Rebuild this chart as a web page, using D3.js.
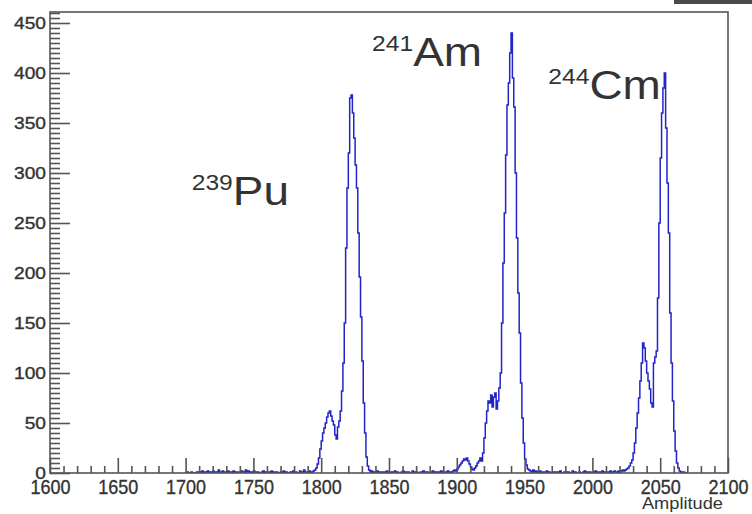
<!DOCTYPE html>
<html>
<head>
<meta charset="utf-8">
<script src="https://cdn.jsdelivr.net/npm/d3@7"></script>
<style>
  html, body { margin: 0; padding: 0; background: #fff; }
  svg { display: block; font-family: "Liberation Sans", Arial, Helvetica, sans-serif; }
</style>
</head>
<body>
<svg id="chart" width="752" height="514"></svg>
<script>
// Alpha spectrum: counts per amplitude channel (1 channel per bin)
const binStart = 1700;
const binWidth = 1;
const counts = [
  0, 1, 0, 0, 1, 0, 0, 0, 1, 0,        // 1700
  1, 0, 2, 1, 0, 1, 2, 0, 1, 0,        // 1710
  2, 1, 0, 1, 3, 1, 0, 2, 1, 0,        // 1720
  1, 2, 0, 1, 0, 2, 1, 0, 1, 1,        // 1730
  0, 2, 1, 0, 3, 1, 2, 0, 1, 0,        // 1740
  2, 1, 0, 1, 0, 0, 1, 2, 0, 1,        // 1750
  0, 1, 0, 2, 0, 1, 0, 1, 0, 0,        // 1760
  1, 0, 2, 0, 1, 0, 0, 1, 0, 2,        // 1770
  0, 1, 0, 0, 2, 1, 0, 3, 1, 0,        // 1780
  1, 2, 0, 1, 2, 3, 5, 9, 15, 24,      // 1790
  32, 40, 45, 50, 56, 60, 62, 57, 52, 48,          // 1800
  38, 34, 46, 52, 62, 82, 110, 150, 225, 285,      // 1810
  320, 375, 378, 360, 335, 308, 285, 240, 196, 156, // 1820
  112, 70, 40, 16, 7, 3, 1, 2, 0, 1,               // 1830
  0, 2, 1, 0, 1, 0, 1, 0, 2, 1,        // 1840
  0, 1, 0, 1, 2, 0, 1, 0, 0, 1,        // 1850
  2, 0, 1, 0, 1, 0, 0, 2, 1, 0,        // 1860
  1, 0, 0, 1, 0, 2, 1, 0, 1, 0,        // 1870
  0, 1, 2, 0, 1, 0, 1, 0, 2, 1,        // 1880
  0, 1, 0, 2, 1, 0, 1, 2, 3, 2,        // 1890
  4, 6, 8, 10, 12, 14, 13, 15, 12, 9,  // 1900
  6, 4, 3, 5, 7, 10, 12, 15, 12, 20,   // 1910
  35, 50, 62, 72, 70, 78, 66, 76, 80, 64,          // 1920
  72, 85, 100, 150, 210, 260, 318, 368, 390, 420,  // 1930
  440, 395, 366, 300, 235, 180, 140, 90, 55, 30,   // 1940
  14, 8, 4, 3, 2, 1, 3, 1, 2, 0,       // 1950
  1, 2, 0, 1, 0, 1, 2, 0, 1, 0,        // 1960
  0, 1, 0, 1, 1, 0, 2, 0, 0, 1,        // 1970
  1, 0, 1, 0, 0, 2, 0, 1, 0, 0,        // 1980
  1, 0, 0, 1, 2, 0, 1, 0, 1, 0,        // 1990
  0, 1, 2, 0, 1, 1, 0, 2, 1, 0,        // 2000
  1, 0, 1, 2, 0, 1, 2, 1, 0, 2,        // 2010
  1, 2, 3, 2, 3, 4, 5, 7, 10, 13,      // 2020
  20, 30, 45, 60, 75, 92, 110, 130, 125, 112,      // 2030
  100, 92, 84, 70, 66, 110, 116, 122, 175, 250,    // 2040
  315, 360, 385, 400, 345, 290, 240, 160, 110, 72, // 2050
  42, 22, 10, 5, 2, 1, 0, 1, 0, 0      // 2060
];

const xDomain = [1600, 2100];
const yDomain = [0, 461];
const xMajorTicks = [1600, 1650, 1700, 1750, 1800, 1850, 1900, 1950, 2000, 2050, 2100];
const yMajorTicks = [0, 50, 100, 150, 200, 250, 300, 350, 400, 450];
const xTitle = "Amplitude";

// Isotope annotations, anchored in data coordinates
const isotopeMass = ["239", "241", "244"];
const isotopeSymbol = ["Pu", "Am", "Cm"];
const isotopeAnchorX = [1704.5, 1837.5, 1967.5];
const isotopeAnchorY = [268, 407, 374];

const W = 752, H = 514;
const frame = { left: 50, right: 728, top: 12, bottom: 473 };
const ink = "#555";
const textInk = "#333";

const svg = d3.select("#chart");

const x = d3.scaleLinear().domain(xDomain).range([frame.left, frame.right]);
const y = d3.scaleLinear().domain(yDomain).range([frame.bottom, frame.top]);

// small dark strip in the top-right corner of the canvas
svg.append("rect")
  .attr("x", 674).attr("y", 0).attr("width", W - 674).attr("height", 4)
  .attr("fill", "#4a4a4a");

// histogram outline as a step path
const steps = [[binStart, 0]];
counts.forEach((c, i) => {
  const x0 = binStart + i * binWidth;
  steps.push([x0, c], [x0 + binWidth, c]);
});
steps.push([binStart + counts.length * binWidth, 0]);

svg.append("clipPath").attr("id", "frameClip")
  .append("rect")
  .attr("x", frame.left).attr("y", frame.top)
  .attr("width", frame.right - frame.left).attr("height", frame.bottom - frame.top);

const line = d3.line().x(d => x(d[0])).y(d => y(d[1]));
svg.append("path")
  .datum(steps)
  .attr("clip-path", "url(#frameClip)")
  .attr("d", line)
  .attr("fill", "none")
  .attr("stroke", "#2323c8")
  .attr("stroke-width", 1.5)
  .attr("stroke-linejoin", "miter");

// X axis: ticks drawn inside the frame
const xMinor = d3.range(xDomain[0], xDomain[1] + 0.001, 10).filter(v => v % 50 !== 0);
const xAxisMinor = d3.axisBottom(x).tickValues(xMinor).tickSize(-7).tickFormat("");
const xAxisMajor = d3.axisBottom(x).tickValues(xMajorTicks).tickSize(-15).tickPadding(7).tickFormat(d3.format("d"));

const gxMin = svg.append("g").attr("transform", `translate(0,${frame.bottom})`).call(xAxisMinor);
const gxMaj = svg.append("g").attr("transform", `translate(0,${frame.bottom})`).call(xAxisMajor);
[gxMin, gxMaj].forEach(g => {
  g.select(".domain").remove();
  g.selectAll("line").attr("stroke", ink).attr("stroke-width", 1.6);
});
gxMaj.selectAll("text")
  .attr("fill", textInk)
  .attr("stroke", textInk).attr("stroke-width", 0.35)
  .style("font-size", "20px")
  .attr("transform", "scale(0.9,1)");

// Y axis
const yMinor = d3.range(0, yDomain[1], 5).filter(v => v % 50 !== 0);
const yAxisMinor = d3.axisLeft(y).tickValues(yMinor).tickSize(-10).tickFormat("");
const yAxisMajor = d3.axisLeft(y).tickValues(yMajorTicks).tickSize(-20).tickPadding(4).tickFormat(d3.format("d"));

const gyMin = svg.append("g").attr("transform", `translate(${frame.left},0)`).call(yAxisMinor);
const gyMaj = svg.append("g").attr("transform", `translate(${frame.left},0)`).call(yAxisMajor);
[gyMin, gyMaj].forEach(g => {
  g.select(".domain").remove();
  g.selectAll("line").attr("stroke", ink).attr("stroke-width", 1.6);
});
gyMaj.selectAll("text")
  .attr("fill", textInk)
  .attr("stroke", textInk).attr("stroke-width", 0.35)
  .style("font-size", "16px")
  .attr("x", -4 / 1.2)
  .attr("transform", "scale(1.2,1)");

// frame
svg.append("rect")
  .attr("x", frame.left).attr("y", frame.top)
  .attr("width", frame.right - frame.left).attr("height", frame.bottom - frame.top)
  .attr("fill", "none").attr("stroke", ink).attr("stroke-width", 1.6);

// axis title, right-aligned under the frame
svg.append("text")
  .attr("transform", `translate(${frame.right - 5},509) scale(1.14,1)`)
  .attr("text-anchor", "end")
  .attr("fill", textInk)
  .style("font-size", "16px")
  .text(xTitle);

// isotope labels with superscript mass numbers
isotopeSymbol.forEach((sym, i) => {
  const t = svg.append("text")
    .attr("transform", `translate(${x(isotopeAnchorX[i])},${y(isotopeAnchorY[i])}) scale(1.12,1)`)
    .attr("fill", textInk);
  t.append("tspan").attr("dy", -15).style("font-size", "22px").text(isotopeMass[i]);
  t.append("tspan").attr("dy", 15).style("font-size", "41px").text(sym);
});
</script>
</body>
</html>
